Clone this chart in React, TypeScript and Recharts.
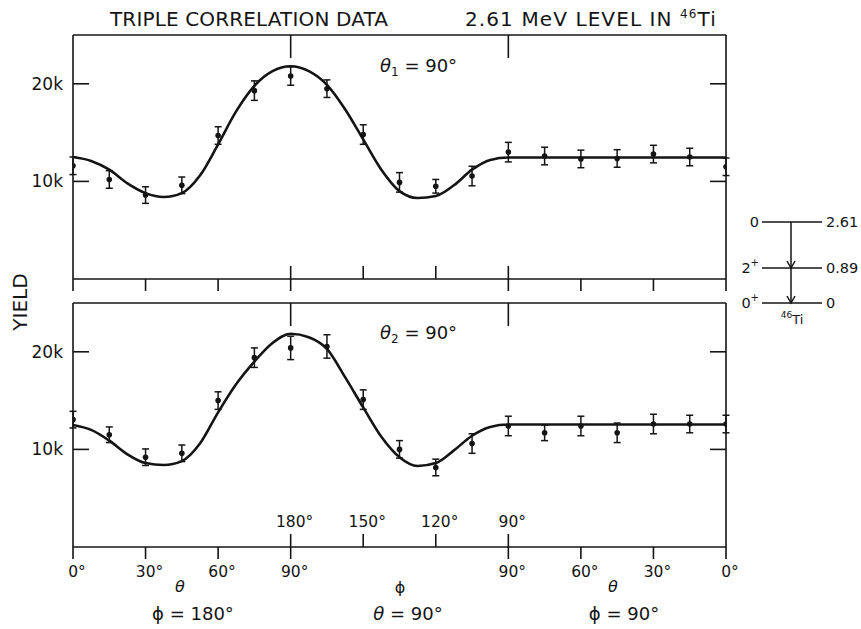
import React from 'react';
import { ComposedChart, Line, Scatter, XAxis, YAxis, ErrorBar } from 'recharts';

const FONT = '"DejaVu Sans", "Liberation Sans", sans-serif';
const INK = '#141414';

// measured angles (position along the combined axis, degrees)
const angles = [0, 15, 30, 45, 60, 75, 90, 105, 120, 135, 150, 165, 180, 195, 210, 225, 240, 255, 270];

// θ1 = 90° panel (yield in thousands)
const topYield = [11.6, 10.2, 8.6, 9.6, 14.7, 19.3, 20.8, 19.5, 14.8, 9.9, 9.5, 10.55, 13.0, 12.6, 12.3, 12.35, 12.8, 12.5, 11.5];
const topErr = [0.9, 0.9, 0.85, 0.85, 0.9, 1.0, 0.95, 0.9, 1.0, 1.0, 0.7, 1.0, 1.0, 0.9, 0.9, 0.9, 0.9, 0.9, 0.9];

// θ2 = 90° panel
const bottomYield = [13.05, 11.5, 9.2, 9.6, 15.0, 19.4, 20.4, 20.55, 15.1, 10.0, 8.15, 10.6, 12.4, 11.7, 12.4, 11.7, 12.6, 12.6, 12.6];
const bottomErr = [0.85, 0.8, 0.85, 0.85, 0.9, 1.0, 1.2, 1.2, 1.0, 0.9, 0.85, 1.0, 1.0, 0.8, 1.0, 1.0, 1.0, 0.9, 0.9];

// theoretical fit curves
const fitAngles = [0, 7.5, 15, 22.5, 30, 37.5, 45, 52.5, 60, 67.5, 75, 82.5, 90, 97.5, 105, 112.5, 120, 127.5, 135, 142.5, 150, 157.5, 165, 172.5, 180, 270];
const topFitValues = [12.5, 12.1, 11.2, 9.8, 8.8, 8.4, 8.8, 10.6, 13.8, 17.2, 19.8, 21.3, 21.8, 21.3, 19.9, 17.4, 14.3, 11.2, 9.0, 8.3, 8.5, 9.6, 11.2, 12.2, 12.45, 12.45];
const bottomFitValues = [12.5, 12.0, 10.9, 9.5, 8.6, 8.4, 8.8, 10.6, 13.8, 16.7, 19.0, 20.9, 21.85, 21.5, 20.3, 17.4, 14.3, 11.3, 9.2, 8.3, 8.6, 9.9, 11.4, 12.3, 12.55, 12.55];

// axis ticks
const xTicks = [0, 30, 60, 90, 120, 150, 180, 210, 240, 270];
const thetaLabels = ['0°', '30°', '60°', '90°', '', '', '90°', '60°', '30°', '0°'];
const phiLabels = ['', '', '', '180°', '150°', '120°', '90°', '', '', ''];
const yTicks = [10, 20];
const yTickLabels = ['10k', '20k'];
const frameTicks = [90, 180];

// level scheme of 46Ti
const levelSpins = ['0', '2', '0'];
const levelParity = ['', '+', '+'];
const levelEnergies = ['2.61', '0.89', '0'];

const topPoints = angles.map((a, i) => ({ x: a, y: topYield[i], e: topErr[i] }));
const bottomPoints = angles.map((a, i) => ({ x: a, y: bottomYield[i], e: bottomErr[i] }));
const topFit = fitAngles.map((a, i) => ({ x: a, y: topFitValues[i] }));
const bottomFit = fitAngles.map((a, i) => ({ x: a, y: bottomFitValues[i] }));

const BottomTick = (props: any) => {
  const { x, y, payload, showLabels } = props;
  const i = xTicks.indexOf(payload.value);
  const down = thetaLabels[i] !== '';
  const up = phiLabels[i] !== '';
  return (
    <g>
      {down && <line x1={x} x2={x} y1={y} y2={y + 12} stroke={INK} strokeWidth={1.6} />}
      {up && <line x1={x} x2={x} y1={y} y2={y - 13} stroke={INK} strokeWidth={1.6} />}
      {showLabels && down && (
        <text x={x + 4} y={y + 30} textAnchor="middle" fontSize={15.5} fill={INK} fontFamily={FONT}>
          {thetaLabels[i]}
        </text>
      )}
      {showLabels && up && (
        <text x={x + 4} y={y - 20} textAnchor="middle" fontSize={15.5} fill={INK} fontFamily={FONT}>
          {phiLabels[i]}
        </text>
      )}
    </g>
  );
};

const TopTick = (props: any) => {
  const { x, y } = props;
  return <line x1={x} x2={x} y1={y} y2={y + 23} stroke={INK} strokeWidth={1.6} />;
};

const LeftTick = (props: any) => {
  const { x, y, payload } = props;
  const i = yTicks.indexOf(payload.value);
  return (
    <g>
      <line x1={x} x2={x + 16} y1={y} y2={y} stroke={INK} strokeWidth={1.6} />
      <text x={x - 10} y={y + 6} textAnchor="end" fontSize={17} fill={INK} fontFamily={FONT}>
        {yTickLabels[i]}
      </text>
    </g>
  );
};

const RightTick = (props: any) => {
  const { x, y } = props;
  return <line x1={x} x2={x - 16} y1={y} y2={y} stroke={INK} strokeWidth={1.6} />;
};

const Dot = (props: any) => <circle cx={props.cx} cy={props.cy} r={2.8} fill={INK} />;

function Panel({ points, fit, showLabels, height, margin }: any) {
  const axisLine = { stroke: INK, strokeWidth: 1.6 };
  return (
    <ComposedChart width={861} height={height} margin={margin}>
      <XAxis
        xAxisId="b"
        type="number"
        dataKey="x"
        domain={[0, 270]}
        ticks={xTicks}
        interval={0}
        orientation="bottom"
        height={1}
        tickSize={0}
        tickMargin={0}
        tickLine={false}
        axisLine={axisLine}
        allowDataOverflow
        tick={(p: any) => <BottomTick {...p} showLabels={showLabels} />}
      />
      <XAxis
        xAxisId="t"
        type="number"
        dataKey="x"
        domain={[0, 270]}
        ticks={frameTicks}
        interval={0}
        orientation="top"
        height={1}
        tickSize={0}
        tickMargin={0}
        tickLine={false}
        axisLine={axisLine}
        allowDataOverflow
        tick={(p: any) => <TopTick {...p} />}
      />
      <YAxis
        yAxisId="l"
        type="number"
        dataKey="y"
        domain={[0, 25]}
        ticks={yTicks}
        interval={0}
        width={1}
        tickSize={0}
        tickMargin={0}
        tickLine={false}
        axisLine={axisLine}
        allowDataOverflow
        tick={(p: any) => <LeftTick {...p} />}
      />
      <YAxis
        yAxisId="r"
        orientation="right"
        type="number"
        dataKey="y"
        domain={[0, 25]}
        ticks={yTicks}
        interval={0}
        width={1}
        tickSize={0}
        tickMargin={0}
        tickLine={false}
        axisLine={axisLine}
        allowDataOverflow
        tick={(p: any) => <RightTick {...p} />}
      />
      <Line
        xAxisId="b"
        yAxisId="l"
        data={fit}
        dataKey="y"
        type="monotone"
        stroke={INK}
        strokeWidth={2.6}
        dot={false}
        activeDot={false}
        isAnimationActive={false}
      />
      <Scatter
        xAxisId="b"
        yAxisId="l"
        data={points}
        dataKey="y"
        fill={INK}
        shape={(p: any) => <Dot {...p} />}
        isAnimationActive={false}
      >
        <ErrorBar dataKey="e" direction="y" width={3.5} stroke={INK} strokeWidth={1.5} isAnimationActive={false} />
      </Scatter>
    </ComposedChart>
  );
}

export default function App() {
  const levelY = [222, 268, 303];
  return (
    <div style={{ position: 'absolute', left: 0, top: 0, width: 861, height: 629, background: '#fff', fontFamily: FONT }}>
      <div style={{ position: 'absolute', left: 0, top: 0 }}>
        <Panel points={topPoints} fit={topFit} showLabels={false} height={300} margin={{ top: 34, bottom: 20, left: 72, right: 134 }} />
      </div>
      <div style={{ position: 'absolute', left: 0, top: 290 }}>
        <Panel points={bottomPoints} fit={bottomFit} showLabels={true} height={339} margin={{ top: 12, bottom: 81, left: 72, right: 134 }} />
      </div>
      <svg width={861} height={629} style={{ position: 'absolute', left: 0, top: 0, pointerEvents: 'none' }} fontFamily={FONT} fill={INK}>
        <text x={249} y={26} textAnchor="middle" fontSize={20} textLength={278} lengthAdjust="spacing">TRIPLE CORRELATION DATA</text>
        <text x={465} y={26} fontSize={20} letterSpacing={1.1}>
          2.61 MeV LEVEL IN <tspan fontSize={12} dy={-8}>46</tspan><tspan dy={8}>Ti</tspan>
        </text>
        <text transform="translate(27,302) rotate(-90)" textAnchor="middle" fontSize={20}>YIELD</text>

        <text x={380} y={72} fontSize={18}>
          <tspan fontStyle="italic">θ</tspan><tspan fontSize={12} dy={4}>1</tspan><tspan dy={-4}> = 90°</tspan>
        </text>
        <text x={380} y={339} fontSize={18}>
          <tspan fontStyle="italic">θ</tspan><tspan fontSize={12} dy={4}>2</tspan><tspan dy={-4}> = 90°</tspan>
        </text>

        <text x={180} y={592} fontSize={16} fontStyle="italic" textAnchor="middle">θ</text>
        <text x={400} y={593} fontSize={16} textAnchor="middle">ϕ</text>
        <text x={613} y={592} fontSize={16} fontStyle="italic" textAnchor="middle">θ</text>

        <text x={193} y={620} fontSize={18} textAnchor="middle">ϕ = 180°</text>
        <text x={408} y={620} fontSize={18} textAnchor="middle"><tspan fontStyle="italic">θ</tspan> = 90°</text>
        <text x={624} y={620} fontSize={18} textAnchor="middle">ϕ = 90°</text>

        {levelY.map((ly, i) => (
          <g key={i}>
            <line x1={762} x2={822} y1={ly} y2={ly} stroke={INK} strokeWidth={1.5} />
            <text x={759} y={ly + 5} fontSize={14.5} textAnchor="end">
              {levelSpins[i]}
              {levelParity[i] && <tspan fontSize={10} dy={-7}>{levelParity[i]}</tspan>}
            </text>
            <text x={826} y={ly + 5} fontSize={14.5}>{levelEnergies[i]}</text>
          </g>
        ))}
        <line x1={791} x2={791} y1={levelY[0]} y2={levelY[2]} stroke={INK} strokeWidth={1.5} />
        <path d={`M787,${levelY[1] - 7} L791,${levelY[1]} L795,${levelY[1] - 7}`} fill="none" stroke={INK} strokeWidth={1.5} />
        <path d={`M787,${levelY[2] - 7} L791,${levelY[2]} L795,${levelY[2] - 7}`} fill="none" stroke={INK} strokeWidth={1.5} />
        <text x={792} y={324} fontSize={13} textAnchor="middle">
          <tspan fontSize={9} dy={-6}>46</tspan><tspan dy={6}>Ti</tspan>
        </text>
      </svg>
    </div>
  );
}
